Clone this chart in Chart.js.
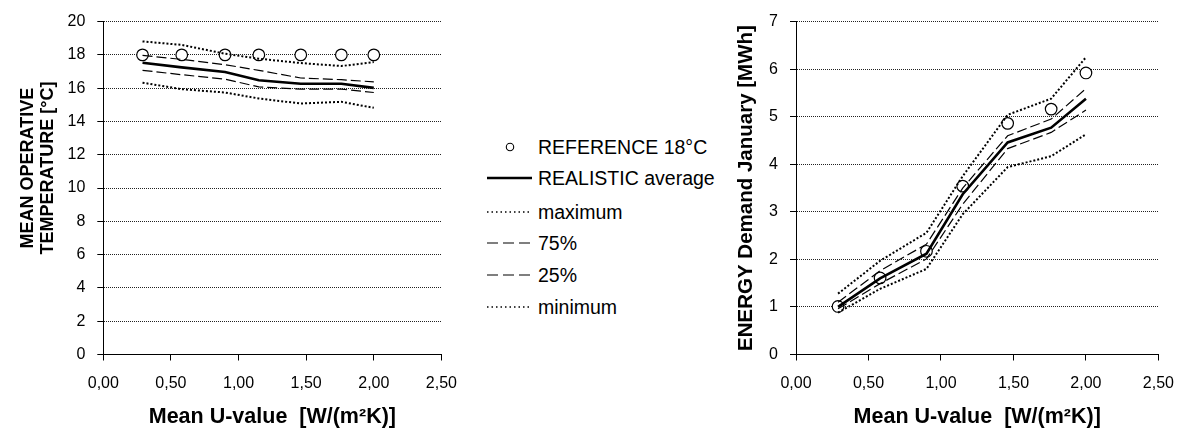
<!DOCTYPE html>
<html>
<head>
<meta charset="utf-8">
<script src="https://cdn.jsdelivr.net/npm/chart.js@4.4.0/dist/chart.umd.min.js"></script>
<style>
html,body{margin:0;padding:0;background:#fff;}
body{width:1187px;height:430px;position:relative;overflow:hidden;font-family:"Liberation Sans",Arial,sans-serif;color:#000;}
#c1{position:absolute;left:0;top:0;}
#c2{position:absolute;left:720px;top:0;}
.item{position:absolute;left:487px;height:26px;display:flex;align-items:center;white-space:nowrap;}
.item svg{display:block;}
.item span{margin-left:6px;font-size:19.5px;line-height:26px;}
</style>
</head>
<body>
<canvas id="c1" width="470" height="430"></canvas>
<canvas id="c2" width="467" height="430"></canvas>
<div id="legend"></div>
<script>
// ---- data ----
const uValues = [0.29, 0.58, 0.90, 1.15, 1.46, 1.76, 2.00];
const xTickLabels = ['0,00', '0,50', '1,00', '1,50', '2,00', '2,50'];
const tempTickLabels = ['0', '2', '4', '6', '8', '10', '12', '14', '16', '18', '20'];
const energyTickLabels = ['0', '1', '2', '3', '4', '5', '6', '7'];

const refTemp = [18.0, 18.0, 18.0, 18.0, 18.0, 18.0, 18.0];
const avgTemp = [17.53, 17.25, 16.97, 16.48, 16.27, 16.27, 16.02];
const p75Temp = [17.97, 17.73, 17.41, 17.07, 16.61, 16.51, 16.38];
const p25Temp = [17.07, 16.81, 16.54, 16.08, 15.94, 15.94, 15.74];
const maxTemp = [18.81, 18.60, 18.07, 17.77, 17.51, 17.33, 17.57];
const minTemp = [16.33, 15.94, 15.74, 15.38, 15.08, 15.18, 14.82];

const refEnergy = [1.01, 1.61, 2.17, 3.54, 4.86, 5.16, 5.92];
const avgEnergy = [1.00, 1.60, 2.12, 3.37, 4.46, 4.77, 5.38];
const p75Energy = [1.10, 1.76, 2.32, 3.50, 4.60, 4.95, 5.59];
const p25Energy = [0.96, 1.49, 2.01, 3.16, 4.33, 4.67, 5.14];
const maxEnergy = [1.28, 1.97, 2.56, 3.75, 5.04, 5.38, 6.25];
const minEnergy = [0.88, 1.38, 1.80, 2.95, 3.94, 4.17, 4.63];

const legendLabels = ['REFERENCE 18°C', 'REALISTIC average', 'maximum', '75%', '25%', 'minimum'];

// ---- styling ----
Chart.defaults.font.family = '"Liberation Sans", Arial, sans-serif';
Chart.defaults.color = '#000';

const pts = arr => uValues.map((x, i) => ({x: x, y: arr[i]}));

function datasets(ref, avg, p75, p25, mx, mn) {
  const line = (label, data, width, dash) => ({
    label, data: pts(data), borderColor: '#000', borderWidth: width, borderDash: dash,
    pointRadius: 0, fill: false, tension: 0, order: 1
  });
  return [
    {label: legendLabels[0], data: pts(ref), showLine: false, pointRadius: 5.8, pointStyle: 'circle',
     pointBorderColor: '#000', pointBackgroundColor: '#fff', pointBorderWidth: 1.2, order: 10},
    line(legendLabels[1], avg, 2.6, []),
    line(legendLabels[2], mx, 2, [2, 2]),
    line(legendLabels[3], p75, 1.2, [10, 4]),
    line(legendLabels[4], p25, 1.2, [10, 4]),
    line(legendLabels[5], mn, 2, [2, 2])
  ];
}

function makeChart(id, ds, yMax, yStep, yLabels, yTitle, yTitleFont, yTitlePad, yWidth, padRight) {
  return new Chart(document.getElementById(id), {
    type: 'line',
    data: {datasets: ds},
    options: {
      responsive: false,
      animation: false,
      devicePixelRatio: 1,
      layout: {padding: {top: 19.5, right: padRight, left: 0, bottom: 0}},
      plugins: {legend: {display: false}, tooltip: {enabled: false}},
      scales: {
        x: {
          type: 'linear', min: 0, max: 2.5,
          ticks: {stepSize: 0.5, padding: 13, font: {size: 16}, maxRotation: 0,
                  callback: (v, i) => xTickLabels[i]},
          grid: {drawOnChartArea: false, drawTicks: true, tickLength: 6, tickColor: '#000', tickWidth: 1},
          border: {display: true, color: '#000', width: 1},
          title: {display: true, text: 'Mean U-value  [W/(m²K)]', font: {size: 21.5, weight: 'bold'},
                  padding: {top: 0, bottom: 0}},
          afterFit: s => { s.height = 75.5; }
        },
        y: {
          type: 'linear', min: 0, max: yMax,
          ticks: {stepSize: yStep, padding: 12, font: {size: 16}, callback: (v, i) => yLabels[i]},
          grid: {color: '#222', lineWidth: 1, drawTicks: true, tickLength: 6, tickColor: '#000', tickWidth: 1, tickBorderDash: []},
          border: {display: true, color: '#000', width: 1, dash: [1, 1]},
          title: {display: true, text: yTitle, font: yTitleFont, padding: {top: yTitlePad, bottom: 0}},
          afterFit: s => { s.width = yWidth; }
        }
      }
    }
  });
}

makeChart('c1', datasets(refTemp, avgTemp, p75Temp, p25Temp, maxTemp, minTemp),
  20, 2, tempTickLabels, ['        MEAN OPERATIVE', '        TEMPERATURE [°C]'],
  {size: 18, weight: 'bold', lineHeight: 1.1}, 18, 103.3, 28);

makeChart('c2', datasets(refEnergy, avgEnergy, p75Energy, p25Energy, maxEnergy, minEnergy),
  7, 1, energyTickLabels, 'ENERGY Demand January [MWh]',
  {size: 20.5, weight: 'bold'}, 14, 76, 20);

// ---- legend (between the two charts) ----
const legendRows = [146.7, 178.3, 211.7, 243.3, 275, 306.7];
const legendSamples = [
  '<circle cx="23" cy="13" r="3.7" fill="#fff" stroke="#000" stroke-width="1.1"/>',
  '<line x1="0" y1="13" x2="45" y2="13" stroke="#000" stroke-width="2.6"/>',
  '<line x1="0" y1="13" x2="45" y2="13" stroke="#000" stroke-width="1.5" stroke-dasharray="1.5 3"/>',
  '<line x1="0" y1="13" x2="45" y2="13" stroke="#000" stroke-width="1.2" stroke-dasharray="11 5"/>',
  '<line x1="0" y1="13" x2="45" y2="13" stroke="#000" stroke-width="1.2" stroke-dasharray="11 5"/>',
  '<line x1="0" y1="13" x2="45" y2="13" stroke="#000" stroke-width="1.5" stroke-dasharray="1.5 3"/>'
];
const lg = document.getElementById('legend');
legendLabels.forEach((t, i) => {
  const d = document.createElement('div');
  d.className = 'item';
  d.style.top = (legendRows[i] - 13) + 'px';
  d.innerHTML = '<svg width="45" height="26">' + legendSamples[i] + '</svg><span>' + t + '</span>';
  lg.appendChild(d);
});
</script>
</body>
</html>
